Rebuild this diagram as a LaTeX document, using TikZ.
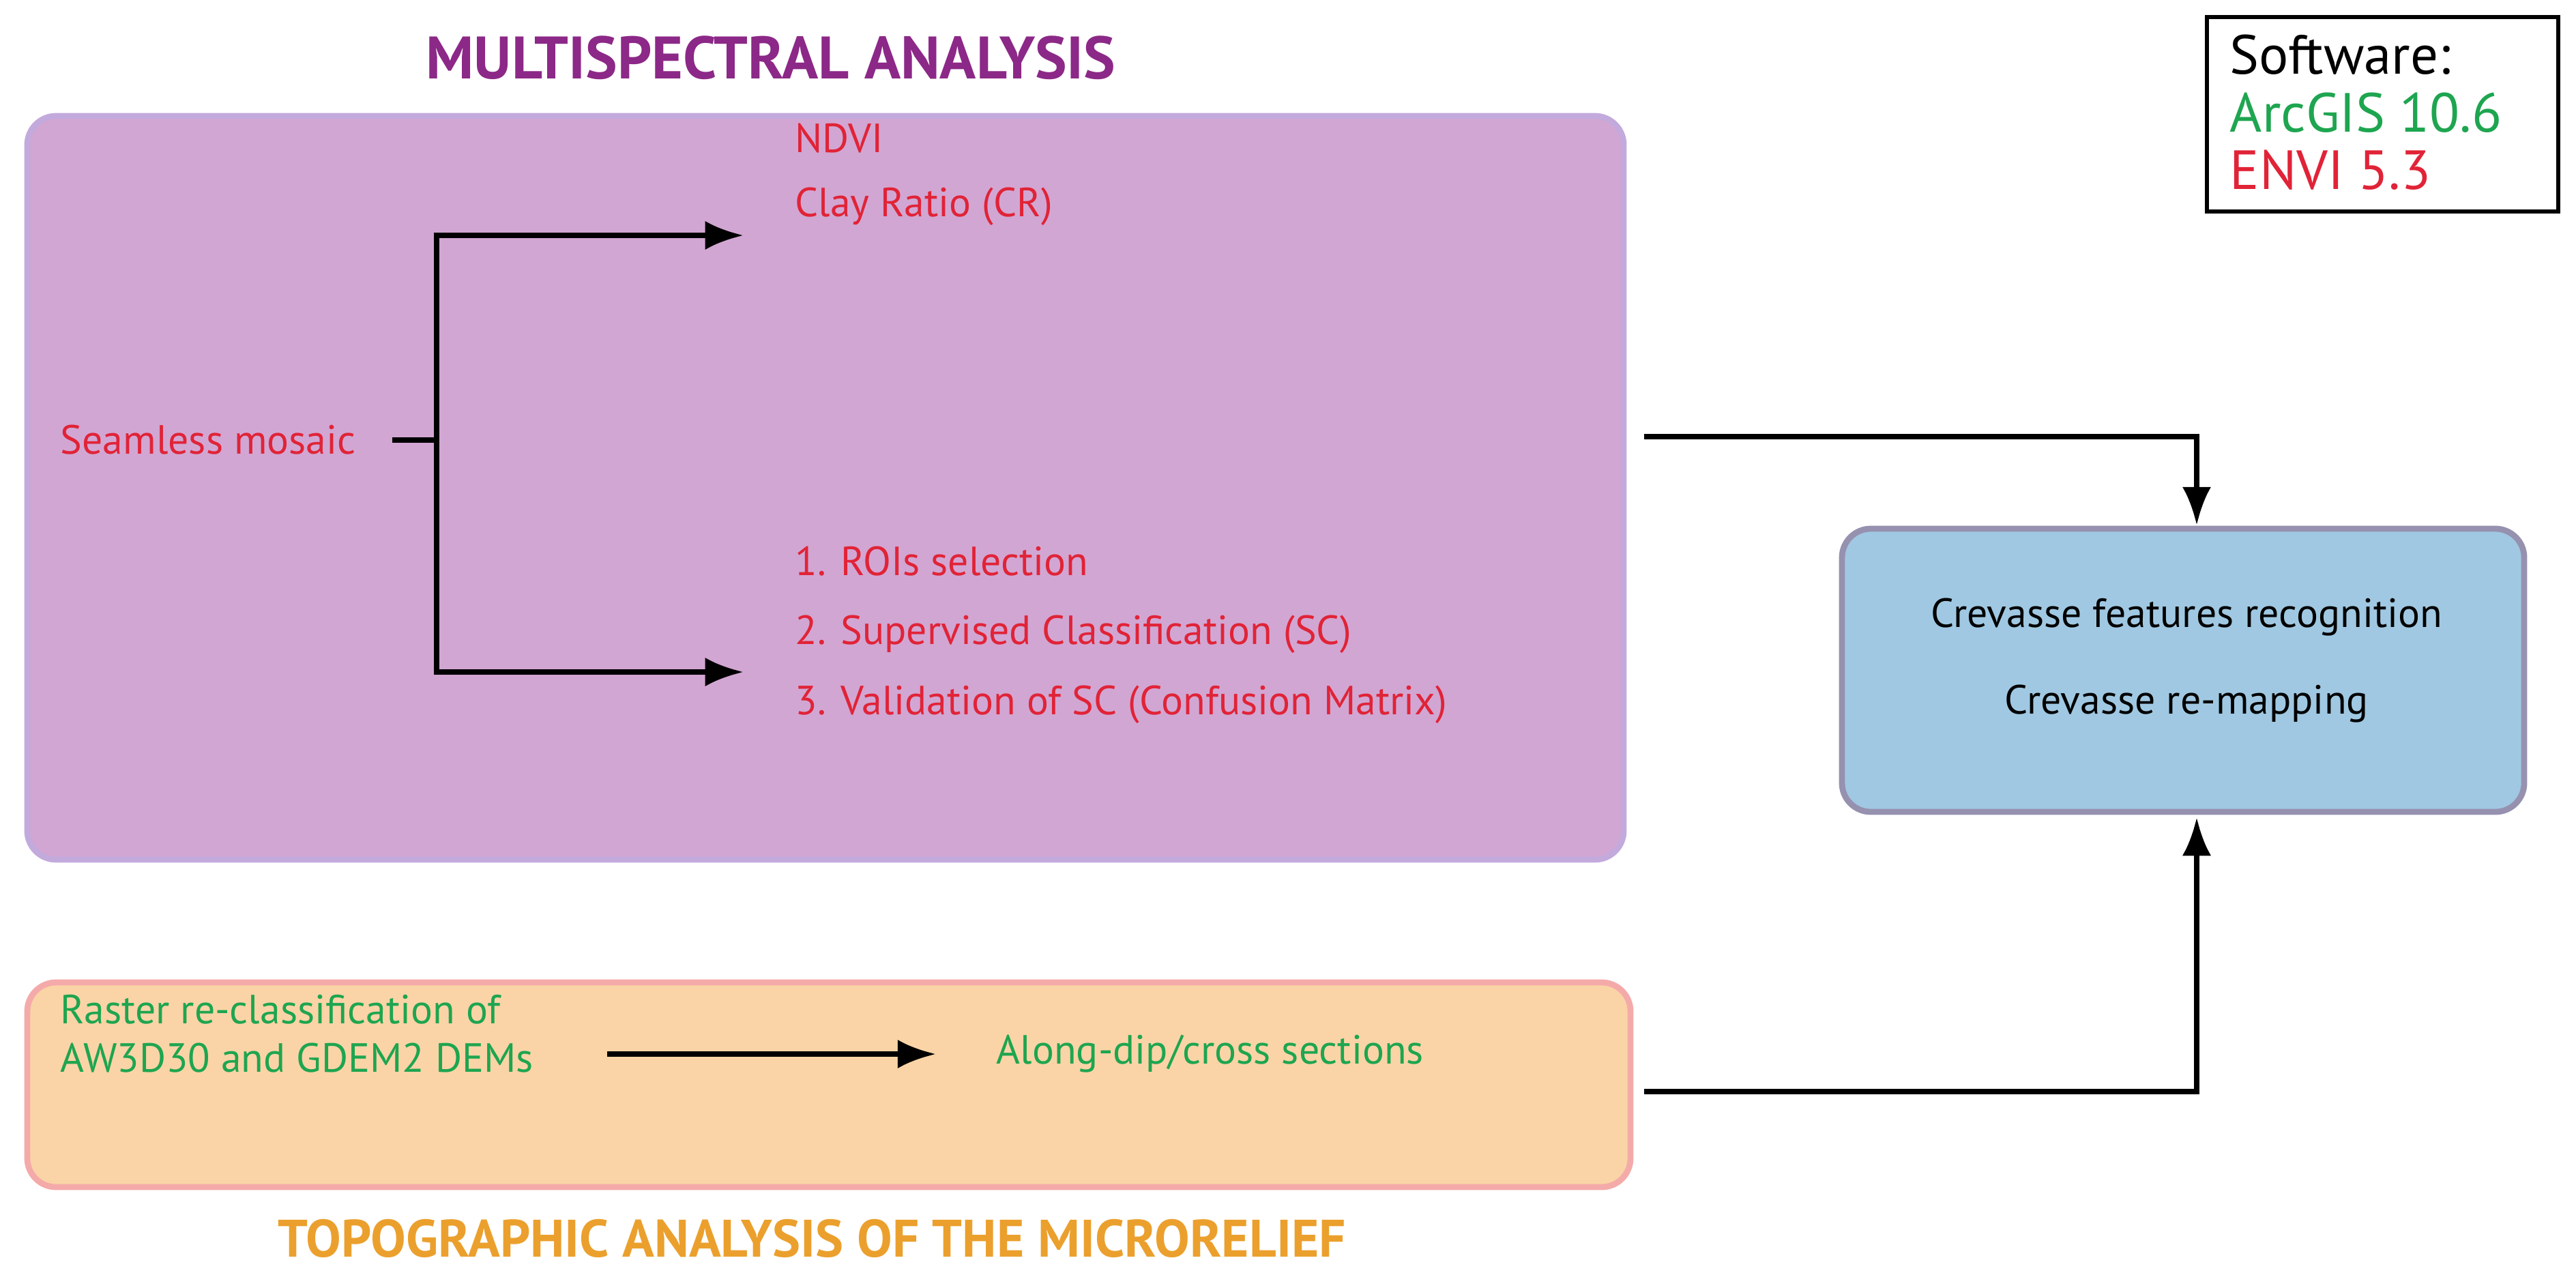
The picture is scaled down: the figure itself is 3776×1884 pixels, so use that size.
\documentclass[tikz,border=0pt]{standalone}
\usepackage{fontspec}
\setmainfont{PT Sans}
\usetikzlibrary{positioning,arrows.meta}
\definecolor{msred}{RGB}{225,35,55}
\definecolor{msgreen}{RGB}{30,165,80}
\definecolor{mspurple}{RGB}{140,40,135}
\definecolor{msorange}{RGB}{235,160,45}
\definecolor{boxpurple}{RGB}{210,166,210}
\definecolor{boxorange}{RGB}{250,212,166}
\definecolor{boxblue}{RGB}{160,200,226}
\definecolor{linepurple}{RGB}{195,170,220}
\definecolor{lineorange}{RGB}{245,170,170}
\definecolor{lineblue}{RGB}{150,145,175}
\tikzset{
  panel/.style={draw=#1,line width=2.5pt,rounded corners=12pt},
  redtxt/.style={text=msred,font=\fontsize{17}{20}\selectfont,anchor=west,inner sep=0pt},
  greentxt/.style={text=msgreen,font=\fontsize{17}{20}\selectfont,anchor=west,inner sep=0pt,align=left},
  flow/.style={line width=2.2pt,-{Latex[length=16pt,width=12pt]}},
}
\begin{document}
\begin{tikzpicture}[x=0.01cm,y=-0.01cm]
\useasboundingbox (0,0) rectangle (3776,1884);
%boxes
\draw[panel=linepurple,fill=boxpurple] (40,170) rectangle (2380,1260);
\draw[panel=lineorange,fill=boxorange] (40,1440) rectangle (2390,1740);
\draw[panel=lineblue,fill=boxblue] (2700,775) rectangle (3700,1190);
\draw[line width=1.5pt] (3235,25) rectangle (3750,310);
\node[anchor=west,align=left,inner sep=0pt,font=\fontsize{23}{24}\selectfont] (soft) at (3268,165)
  {Software:\\\textcolor{msgreen}{ArcGIS 10.6}\\\textcolor{msred}{ENVI 5.3}};
%titles
\node[text=mspurple,font=\fontsize{25}{28}\selectfont\bfseries] (mstitle) at (1130,85) {MULTISPECTRAL ANALYSIS};
\node[text=msorange,font=\fontsize{22}{26}\selectfont\bfseries] (tptitle) at (1190,1815) {TOPOGRAPHIC ANALYSIS OF THE MICRORELIEF};
%multispectral
\node[redtxt] (mosaic) at (88,645) {Seamless mosaic};
\node[redtxt] (ndvi) at (1165,203) {NDVI};
\node[redtxt] (clay) at (1165,303) {Clay Ratio (CR)};
\node[redtxt] (roi) at (1165,823) {1. ROIs selection};
\node[redtxt] (sc) at (1165,930) {2. Supervised Classification (SC)};
\node[redtxt] (valid) at (1165,1033) {3. Validation of SC (Confusion Matrix)};
\coordinate (split) at (640,645);
\draw[line width=2.2pt] ([xshift=15pt]mosaic.east) -- (split);
\draw[flow] (split) |- (1090,345);
\draw[flow] (split) |- (1090,985);
%topographic
\node[greentxt] (raster) at (88,1515) {Raster re-classification of\\AW3D30 and GDEM2 DEMs};
\node[greentxt] (dip) at (1460,1545) {Along-dip/cross sections};
\draw[flow] (890,1545) -- ([xshift=-25pt]dip.west);
%crevasse
\node[font=\fontsize{17}{20}\selectfont] (recog) at (3205,905) {Crevasse features recognition};
\node[font=\fontsize{17}{20}\selectfont] (remap) at (3205,1032) {Crevasse re-mapping};
\coordinate (msout) at (2410,640);
\coordinate (tpout) at (2410,1600);
\draw[flow] (msout) -| (3220,770);
\draw[flow] (tpout) -| (3220,1198);
\end{tikzpicture}
\end{document}
